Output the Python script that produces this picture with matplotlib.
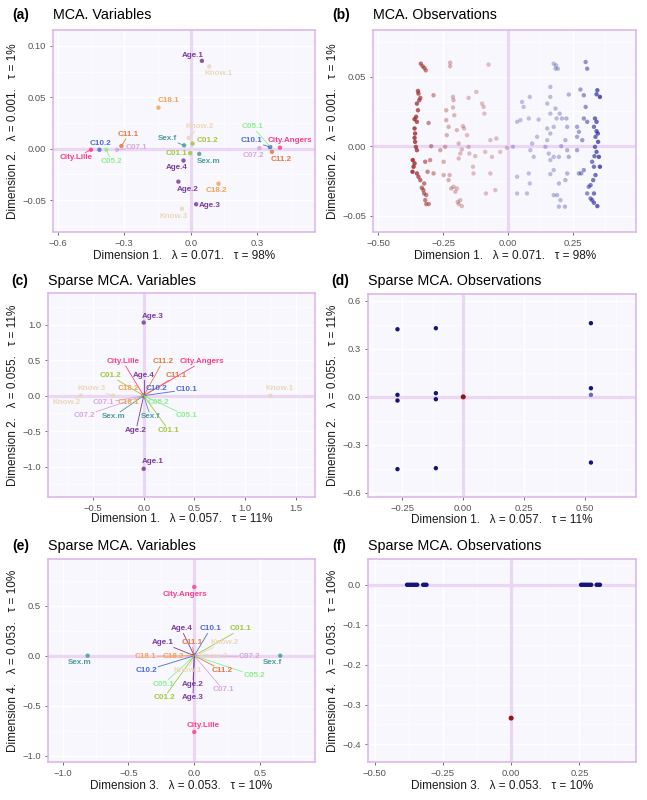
import numpy as np
import matplotlib
matplotlib.use("Agg")
import matplotlib.pyplot as plt
from matplotlib.ticker import AutoMinorLocator

plt.rcParams['font.family'] = ['Liberation Sans', 'DejaVu Sans']

# colours per variable group
group_colors = {
    'Age': '#7b3c9c', 'Know': '#ead8b8', 'C18': '#f2a455', 'C11': '#e9763e',
    'C10': '#4a6bd8', 'City': '#ff3d88', 'C05': '#8cef8c', 'C07': '#d9a6de',
    'Sex': '#4f9b9b', 'C01': '#a2c83a',
}

# ---- (a) MCA variables ----
names_a = ['Age.1', 'Know.1', 'C18.1', 'Know.2', 'C11.1', 'C10.2', 'City.Lille', 'C05.2',
           'C07.1', 'Sex.f', 'C01.2', 'C01.1', 'Sex.m', 'Age.4', 'Age.2', 'C18.2', 'Age.3',
           'Know.3', 'C05.1', 'C10.1', 'City.Angers', 'C07.2', 'C11.2']
x_a = [0.050, 0.083, -0.146, -0.010, -0.313, -0.412, -0.450, -0.381, -0.333, -0.030, 0.008,
       -0.003, 0.038, -0.033, -0.056, 0.125, 0.024, -0.040, 0.360, 0.357, 0.402, 0.309, 0.366]
y_a = [0.0855, 0.080, 0.040, 0.0105, 0.0026, -0.0010, -0.0010, -0.0010, -0.0010, 0.0033, 0.005,
       -0.0043, -0.005, -0.0115, -0.032, -0.034, -0.054, -0.0585, 0.0016, 0.0016, 0.001, 0.0007, -0.003]
lab_x_a = [0.009, 0.1245, -0.1005, 0.0375, -0.2805, -0.408, -0.516, -0.3585, -0.243, -0.105, 0.075,
           -0.063, 0.0795, -0.063, -0.015, 0.117, 0.087, -0.078, 0.2775, 0.2745, 0.447, 0.282, 0.4065]
lab_y_a = [0.0911, 0.0734, 0.0467, 0.0214, 0.0141, 0.0049, -0.0082, -0.0122, 0.001, 0.0095, 0.0082,
           -0.0049, -0.0122, -0.0181, -0.0395, -0.0411, -0.0549, -0.0658, 0.0214, 0.0076, 0.0079,
           -0.0066, -0.0109]

# ---- (b) MCA observations ----
obs_x_b = [-0.336, -0.329, -0.322, -0.317, -0.223, -0.223, -0.075, -0.347, -0.345, -0.338, -0.342,
           -0.351, -0.347, -0.354, -0.360, -0.351, -0.360, -0.358, -0.360, -0.358, -0.355, -0.351,
           -0.367, -0.360, -0.364, -0.368, -0.351, -0.345, -0.338, -0.332, -0.326, -0.323, -0.315,
           -0.319, -0.315, -0.305, -0.319, -0.310, -0.323, -0.287, -0.296, -0.261, -0.300, -0.287,
           -0.306, -0.238, -0.238, -0.229, -0.236, -0.242, -0.248, -0.248, -0.229, -0.225, -0.219,
           -0.210, -0.197, -0.203, -0.194, -0.190, -0.184, -0.178, -0.212, -0.210, -0.212, -0.207,
           -0.197, -0.190, -0.184, -0.190, -0.178, -0.174, -0.169, -0.158, -0.152, -0.149, -0.135,
           -0.133, -0.126, -0.122, -0.152, -0.100, -0.094, -0.091, -0.088, -0.085, -0.068, -0.062,
           -0.068, -0.045, -0.030, -0.049, -0.004,
           0.176, 0.183, 0.192, 0.185, 0.299, 0.305, 0.163, 0.163, 0.234, 0.279, 0.292, 0.299,
           0.344, 0.354, 0.341, 0.335, 0.341, 0.331, 0.341, 0.346, 0.337, 0.347, 0.335, 0.341,
           0.333, 0.324, 0.331, 0.337, 0.328, 0.318, 0.331, 0.324, 0.331, 0.344, 0.305, 0.266,
           0.273, 0.266, 0.286, 0.292, 0.305, 0.054, 0.060, 0.048, 0.035, 0.019, 0.035, 0.035,
           0.080, 0.093, 0.086, 0.099, 0.080, 0.084, 0.112, 0.118, 0.084, 0.151, 0.163, 0.183,
           0.187, 0.199, 0.208, 0.225, 0.228, 0.176, 0.151, 0.163, 0.151, 0.144, 0.157, 0.163,
           0.176, 0.196, 0.205, 0.221, 0.228, 0.234, 0.228, 0.221, 0.196, 0.189, 0.202, 0.196,
           0.219, 0.176, 0.163, 0.176, 0.073, 0.266, 0.273, 0.282, 0.292, 0.311, 0.318, 0.350, 0.354]
obs_y_b = [0.0593, 0.0574, 0.0562, 0.0545, 0.0600, 0.0574, 0.0586, 0.0397, 0.0378, 0.0347, 0.0330,
           0.0306, 0.0258, 0.0211, 0.0194, 0.0175, 0.0127, 0.0091, 0.0060, 0.0031, -0.0005, -0.0029,
           -0.0100, -0.0124, -0.0148, -0.0184, -0.0196, -0.0220, -0.0244, -0.0299, -0.0316, -0.0340,
           -0.0352, -0.0388, -0.0416, -0.0416, -0.0112, -0.0184, -0.0268, 0.0366, 0.0000, -0.0029,
           -0.0100, -0.0196, 0.0167, 0.0258, 0.0187, 0.0139, 0.0079, -0.0005, -0.0112, -0.0208,
           -0.0244, -0.0208, -0.0304, -0.0292, -0.0304, -0.0328, -0.0400, -0.0416, -0.0388, -0.0431,
           0.0354, 0.0330, 0.0278, 0.0222, 0.0115, 0.0019, -0.0053, -0.0089, -0.0024, 0.0144, 0.0127,
           0.0079, -0.0005, -0.0053, -0.0148, -0.0196, -0.0072, 0.0390, 0.0347, 0.0306, 0.0282,
           0.0234, -0.0041, -0.0340, -0.0196, -0.0077, 0.0043, 0.0055, -0.0041, -0.0316, -0.0012,
           0.0593, 0.0557, 0.0557, 0.0581, 0.0605, 0.0557, 0.0426, 0.0354, 0.0371, 0.0407, 0.0366,
           0.0282, 0.0402, 0.0354, 0.0373, 0.0199, 0.0175, 0.0139, 0.0108, 0.0091, 0.0067, 0.0031,
           -0.0005, -0.0041, -0.0072, -0.0112, -0.0148, -0.0208, -0.0244, -0.0280, -0.0340, -0.0388,
           -0.0407, -0.0431, -0.0340, 0.0139, 0.0103, 0.0067, 0.0043, 0.0199, 0.0175, 0.0318, 0.0282,
           0.0187, 0.0175, -0.0005, -0.0220, -0.0340, 0.0199, 0.0019, -0.0029, -0.0077, -0.0196,
           -0.0268, 0.0067, 0.0191, 0.0354, 0.0306, 0.0234, 0.0270, 0.0199, 0.0234, 0.0199, 0.0199,
           0.0139, 0.0139, 0.0127, 0.0091, 0.0043, -0.0005, -0.0053, -0.0100, -0.0077, -0.0077,
           0.0000, 0.0043, -0.0029, -0.0077, -0.0196, -0.0244, -0.0268, -0.0352, -0.0388, -0.0435,
           -0.0435, -0.0352, -0.0201, -0.0172, -0.0340, -0.0029, -0.0196, -0.0196, -0.0172, -0.0292,
           -0.0376, -0.0077, -0.0148]

# ---- (c) Sparse MCA variables, dims 1-2 ----
names_c = ['Age.3', 'Age.1', 'Know.1', 'Know.2', 'Know.3', 'City.Lille', 'C11.2', 'City.Angers',
           'C01.2', 'Age.4', 'C11.1', 'C18.2', 'C10.2', 'C10.1', 'C07.1', 'C18.1', 'C05.2', 'C07.2',
           'Sex.m', 'Sex.f', 'C05.1', 'Age.2', 'C01.1']
x_c = [0.0, 0.0, 1.25, -0.62, -0.30] + [0.0] * 18
y_c = [1.03, -1.03, 0.0, 0.0, 0.0] + [0.0] * 18
lab_x_c = [0.089, 0.089, 1.342, -0.763, -0.51, -0.204, 0.1875, 0.576, -0.33, 0.0, 0.32, -0.148,
           0.13, 0.42, -0.395, -0.148, 0.148, -0.586, -0.296, 0.066, 0.42, -0.076, 0.247]
lab_y_c = [1.108, -0.93, 0.094, -0.103, 0.094, 0.479, 0.479, 0.479, 0.28, 0.28, 0.28, 0.094,
           0.094, 0.085, -0.103, -0.103, -0.103, -0.282, -0.291, -0.291, -0.282, -0.488, -0.488]

# ---- (d) Sparse MCA observations, dims 1-2 ----
obs_x_d = [-0.270, -0.270, -0.270, -0.270, -0.1125, -0.1125, -0.1125, -0.1125, 0.524, 0.524, 0.524, 0.524]
obs_y_d = [0.422, 0.0125, -0.023, -0.451, 0.4285, 0.023, -0.0146, -0.445, 0.46, 0.054, 0.0125, -0.41]
obs_c_d = ['#14147a'] * 10 + ['#6a6ab8', '#14147a']
centre_d = (0.0, 0.0)

# ---- (e) Sparse MCA variables, dims 3-4 ----
names_e = ['City.Angers', 'City.Lille', 'Sex.m', 'Sex.f', 'Age.4', 'C10.1', 'C01.1', 'Age.1', 'C11.1',
           'Know.2', 'C18.1', 'C18.2', 'Know.3', 'C07.2', 'C10.2', 'Know.1', 'C11.2', 'C05.2', 'C05.1',
           'Age.2', 'C07.1', 'C01.2', 'Age.3']
x_e = [0.0, 0.0, -0.81, 0.653] + [0.0] * 19
y_e = [0.687, -0.763, 0.0, 0.0] + [0.0] * 19
lab_x_e = [-0.068, 0.07, -0.873, 0.597, -0.099, 0.121, 0.354, -0.24, -0.018, 0.228, -0.372, -0.157,
           0.147, 0.42, -0.364, -0.048, 0.215, 0.455, -0.233, -0.01, 0.218, -0.228, -0.01]
lab_y_e = [0.617, -0.70, -0.073, -0.073, 0.267, 0.267, 0.267, 0.127, 0.127, 0.127, -0.007, -0.007,
           -0.007, -0.007, -0.147, -0.147, -0.147, -0.20, -0.283, -0.283, -0.34, -0.417, -0.417]

# ---- (f) Sparse MCA observations, dims 3-4 ----
obs_x_f = [-0.381, -0.375, -0.368, -0.362, -0.356, -0.350, -0.344, -0.322, -0.316, -0.310,
           0.256, 0.262, 0.268, 0.274, 0.280, 0.287, 0.293, 0.313, 0.319, 0.325]
obs_y_f = [0.0] * 20
centre_f = (0.0, -0.334)

W, H = 647, 800
fig = plt.figure(figsize=(W / 100, H / 100), dpi=100)


def add_ax(x0, y0, x1, y1):
    return fig.add_axes([x0 / W, 1 - y1 / H, (x1 - x0) / W, (y1 - y0) / H])


def style(ax, xlim, ylim, xt, xtl, yt, ytl, xlabel, ylabel, xl_off, yl_off):
    ax.set_facecolor('#f7f7fd')
    ax.set_xlim(xlim)
    ax.set_ylim(ylim)
    ax.set_xticks(xt)
    ax.set_xticklabels(xtl)
    ax.set_yticks(yt)
    ax.set_yticklabels(ytl)
    ax.xaxis.set_minor_locator(AutoMinorLocator(2))
    ax.yaxis.set_minor_locator(AutoMinorLocator(2))
    ax.grid(which='major', color='white', lw=0.9)
    ax.grid(which='minor', color='white', lw=0.45)
    ax.set_axisbelow(True)
    ax.tick_params(which='minor', length=0)
    ax.tick_params(which='major', length=2.5, width=0.6, color='#555555', labelsize=6.8,
                   labelcolor='#555555', pad=2.5)
    for sp in ax.spines.values():
        sp.set_color('#dab4e8')
        sp.set_linewidth(1.1)
    ax.axhline(0, color='#ebd6f4', lw=2.3, zorder=1)
    ax.axvline(0, color='#ebd6f4', lw=2.3, zorder=1)
    ax.set_xlabel(xlabel, fontsize=8.5, color='#1a1a1a')
    ax.set_ylabel(ylabel, fontsize=8.5, color='#1a1a1a')
    ax.xaxis.label.set_va('center')
    ax.yaxis.label.set_va('center')
    ax.xaxis.set_label_coords(0.5, -xl_off)
    ax.yaxis.set_label_coords(-yl_off, 0.5)


def panel_title(x_tag, x_title, y, tag, title):
    fig.text(x_tag / W, 1 - y / H, tag, fontsize=10, fontweight='bold', va='center', ha='left')
    fig.text(x_title / W, 1 - y / H, title, fontsize=10.3, va='center', ha='left')


def draw_variables(ax, names, xs, ys, lxs, lys):
    cols = [group_colors[n.split('.')[0]] for n in names]
    ax.scatter(xs, ys, s=10, c=cols, alpha=0.85, edgecolors='none', zorder=3)
    renderer = fig.canvas.get_renderer()
    inv = ax.transData.inverted()
    for n, x, y, lx, ly, c in zip(names, xs, ys, lxs, lys, cols):
        t = ax.text(lx, ly, n, fontsize=5.8, fontweight='bold', color=c, ha='center', va='center',
                    zorder=5)
        bb = t.get_window_extent(renderer)
        cx, cy = (bb.x0 + bb.x1) / 2, (bb.y0 + bb.y1) / 2
        hw, hh = bb.width / 2 + 1, bb.height / 2 + 1
        px, py = ax.transData.transform((x, y))
        dx, dy = px - cx, py - cy
        if abs(dx) <= hw and abs(dy) <= hh:
            continue
        s = min(hw / abs(dx) if dx else np.inf, hh / abs(dy) if dy else np.inf)
        ex, ey = cx + dx * s, cy + dy * s
        if np.hypot(px - ex, py - ey) < 6:
            continue
        p0 = inv.transform((px, py))
        p1 = inv.transform((ex, ey))
        ax.plot([p0[0], p1[0]], [p0[1], p1[1]], color=c, lw=0.6, zorder=4)


# (a)
ax_a = add_ax(53.3, 30, 315, 232)
style(ax_a, (-0.62, 0.56), (-0.081, 0.1155), [-0.6, -0.3, 0.0, 0.3], ['\u22120.6', '\u22120.3', '0.0', '0.3'],
      [-0.05, 0.0, 0.05, 0.10], ['\u22120.05', '0.00', '0.05', '0.10'],
      'Dimension 1.   \u03bb = 0.071.   \u03c4 = 98%', 'Dimension 2.   \u03bb = 0.001.   \u03c4 = 1%',
      0.119, 0.153)
draw_variables(ax_a, names_a, x_a, y_a, lab_x_a, lab_y_a)
panel_title(12, 53.3, 15, '(a)', 'MCA. Variables')

# (b)
ax_b = add_ax(373.3, 30, 636, 232)
style(ax_b, (-0.519, 0.493), (-0.0617, 0.0835), [-0.5, -0.25, 0.0, 0.25],
      ['\u22120.50', '\u22120.25', '0.00', '0.25'], [-0.05, 0.0, 0.05], ['\u22120.05', '0.00', '0.05'],
      'Dimension 1.   \u03bb = 0.071.   \u03c4 = 98%', 'Dimension 2.   \u03bb = 0.001.   \u03c4 = 1%',
      0.119, 0.152)
xb = np.array(obs_x_b)
yb = np.array(obs_y_b)
alphas = np.clip(0.28 + 0.62 * (np.abs(xb) / 0.37) ** 5, 0, 0.95)
cols_b = [(0.62, 0.16, 0.16, a) if x < 0 else (0.17, 0.17, 0.62, a) for x, a in zip(xb, alphas)]
ax_b.scatter(xb, yb, s=10, c=cols_b, edgecolors='none', zorder=3)
panel_title(332.7, 373.3, 15, '(b)', 'MCA. Observations')

# (c)
ax_c = add_ax(48, 293, 315, 497)
style(ax_c, (-0.944, 1.69), (-1.427, 1.446), [-0.5, 0.0, 0.5, 1.0, 1.5], ['\u22120.5', '0.0', '0.5', '1.0', '1.5'],
      [-1.0, -0.5, 0.0, 0.5, 1.0], ['\u22121.0', '\u22120.5', '0.0', '0.5', '1.0'],
      'Dimension 1.   \u03bb = 0.057.   \u03c4 = 11%', 'Dimension 2.   \u03bb = 0.055.   \u03c4 = 11%',
      0.109, 0.13)
draw_variables(ax_c, names_c, x_c, y_c, lab_x_c, lab_y_c)
panel_title(11.7, 48.3, 280.7, '(c)', 'Sparse MCA. Variables')

# (d)
ax_d = add_ax(368, 294, 636, 497)
style(ax_d, (-0.391, 0.709), (-0.625, 0.642), [-0.25, 0.0, 0.25, 0.5], ['\u22120.25', '0.00', '0.25', '0.50'],
      [-0.6, -0.3, 0.0, 0.3, 0.6], ['\u22120.6', '\u22120.3', '0.0', '0.3', '0.6'],
      'Dimension 1.   \u03bb = 0.057.   \u03c4 = 11%', 'Dimension 2.   \u03bb = 0.055.   \u03c4 = 11%',
      0.113, 0.129)
ax_d.scatter(obs_x_d, obs_y_d, s=10, c=obs_c_d, edgecolors='none', zorder=3)
ax_d.scatter([centre_d[0]], [centre_d[1]], s=13, c='#9b1111', edgecolors='none', zorder=4)
panel_title(331.7, 368.3, 280.7, '(d)', 'Sparse MCA. Observations')

# (e)
ax_e = add_ax(48, 559, 315, 762)
style(ax_e, (-1.111, 0.917), (-1.063, 0.967), [-1.0, -0.5, 0.0, 0.5], ['\u22121.0', '\u22120.5', '0.0', '0.5'],
      [-1.0, -0.5, 0.0, 0.5], ['\u22121.0', '\u22120.5', '0.0', '0.5'],
      'Dimension 3.   \u03bb = 0.053.   \u03c4 = 10%', 'Dimension 4.   \u03bb = 0.053.   \u03c4 = 10%',
      0.117, 0.13)
draw_variables(ax_e, names_e, x_e, y_e, lab_x_e, lab_y_e)
panel_title(12, 48.3, 546, '(e)', 'Sparse MCA. Variables')

# (f)
ax_f = add_ax(368, 559, 636, 762)
style(ax_f, (-0.524, 0.457), (-0.444, 0.0646), [-0.5, -0.25, 0.0, 0.25], ['\u22120.50', '\u22120.25', '0.00', '0.25'],
      [-0.4, -0.3, -0.2, -0.1, 0.0], ['\u22120.4', '\u22120.3', '\u22120.2', '\u22120.1', '0.0'],
      'Dimension 3.   \u03bb = 0.053.   \u03c4 = 10%', 'Dimension 4.   \u03bb = 0.053.   \u03c4 = 10%',
      0.117, 0.129)
ax_f.scatter(obs_x_f, obs_y_f, s=10, c='#14147a', edgecolors='none', zorder=3)
ax_f.scatter([centre_f[0]], [centre_f[1]], s=13, c='#9b1111', edgecolors='none', zorder=4)
panel_title(332, 368.3, 546, '(f)', 'Sparse MCA. Observations')

fig.savefig('out.png', dpi=100)
